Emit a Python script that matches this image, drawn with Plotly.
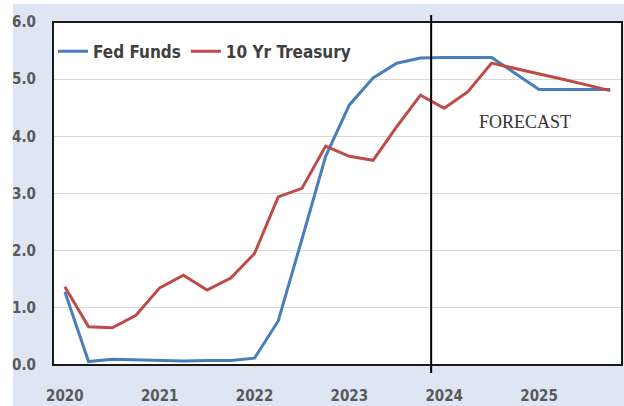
import plotly.graph_objects as go

# Quarterly observations, 2020 Q1 through 2025 Q4 (forecast from 2024)
quarters = list(range(24))
year_ticks = [0, 4, 8, 12, 16, 20]
year_labels = ["2020", "2021", "2022", "2023", "2024", "2025"]

fed_funds = [1.28, 0.06, 0.10, 0.09, 0.07, 0.07, 0.08, 0.08,
             0.12, 0.77, 2.20, 3.65, 4.55, 5.02, 5.28, 5.37,
             5.38, 5.38, 5.38, 5.10, 4.82, 4.82, 4.82, 4.82]
treasury_10y = [1.37, 0.67, 0.65, 0.87, 1.35, 1.57, 1.31, 1.52,
                1.95, 2.94, 3.09, 3.83, 3.65, 3.58, 4.17, 4.72,
                4.49, 4.78, 5.28, 5.19, 5.09, 5.00, 4.90, 4.80]

forecast_start = 15.45

BLUE = "#4a7ebb"
RED = "#be4b48"
PANEL = "#dde6f2"
FONT = "DejaVu Sans Condensed, Arial Narrow, sans-serif"

fig = go.Figure()
fig.add_trace(go.Scatter(x=quarters, y=fed_funds, mode="lines", name="<b>Fed Funds</b>",
                         line=dict(color=BLUE, width=3)))
fig.add_trace(go.Scatter(x=quarters, y=treasury_10y, mode="lines", name="<b>10 Yr Treasury</b>",
                         line=dict(color=RED, width=3)))

W, H = 624, 406
ml, mr, mt, mb = 53, 2, 22, 41
pw, ph = W - ml - mr, H - mt - mb

def px_x(p):
    return (p - ml) / pw

def px_y(p):
    return (H - mb - p) / ph

# light-blue panel behind the chart, then the white plotting area with a black frame
fig.add_shape(type="rect", xref="paper", yref="paper", layer="below",
              x0=px_x(13), x1=px_x(W + 5), y0=px_y(H + 5), y1=px_y(4),
              fillcolor=PANEL, line=dict(width=0))
fig.add_shape(type="rect", xref="paper", yref="paper", layer="below",
              x0=0, x1=1, y0=0, y1=1, fillcolor="white", line=dict(width=0))
fig.add_shape(type="rect", xref="paper", yref="paper", layer="above",
              x0=0, x1=1, y0=0, y1=1, fillcolor="rgba(0,0,0,0)",
              line=dict(color="#1a1a1a", width=2))

# forecast divider
fig.add_shape(type="line", xref="x", yref="paper", layer="above",
              x0=forecast_start, x1=forecast_start, y0=px_y(373), y1=px_y(15),
              line=dict(color="black", width=2))
fig.add_annotation(x=19.4, y=4.25, xref="x", yref="y", text="FORECAST", showarrow=False,
                   font=dict(family="Liberation Serif, Times New Roman, serif", size=18,
                             color="#333333"))

fig.update_layout(
    width=W, height=H,
    margin=dict(l=ml, r=mr, t=mt, b=mb, pad=0),
    paper_bgcolor="white",
    plot_bgcolor="rgba(0,0,0,0)",
    showlegend=True,
    legend=dict(orientation="h", x=0.0, y=0.966, xanchor="left", yanchor="top",
                bgcolor="rgba(0,0,0,0)",
                font=dict(family=FONT, size=17, color="#404040"),
                itemwidth=30, tracegroupgap=0),
    xaxis=dict(range=[-0.5, 23.5], tickvals=year_ticks,
               ticktext=["<b>%s</b>" % t for t in year_labels],
               showgrid=False, zeroline=False, showline=False, ticks="",
               ticklabelstandoff=20,
               tickfont=dict(family=FONT, size=15, color="#595959")),
    yaxis=dict(range=[0, 6], tickvals=[0, 1, 2, 3, 4, 5, 6],
               ticktext=["<b>%s</b>" % t for t in ["0.0", "1.0", "2.0", "3.0", "4.0", "5.0", "6.0"]],
               showgrid=True, gridcolor="#d9d9d9", gridwidth=1,
               zeroline=False, showline=False, ticks="",
               ticklabelstandoff=16,
               tickfont=dict(family=FONT, size=15, color="#595959")),
)

fig.write_html("out.html")
